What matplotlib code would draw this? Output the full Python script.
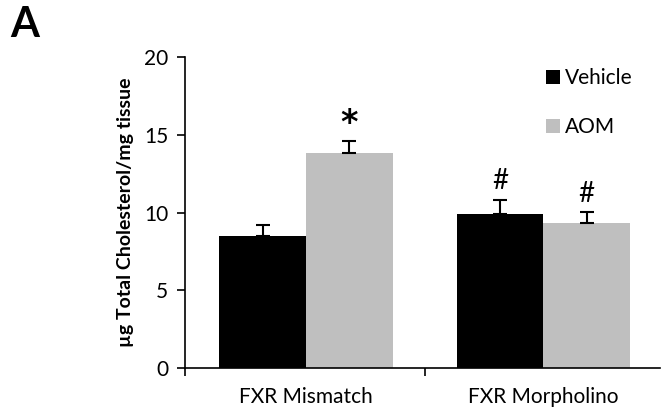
import numpy as np
import matplotlib
matplotlib.use('Agg')
import matplotlib.pyplot as plt
from matplotlib.ticker import FixedLocator

plt.rcParams['font.family'] = ['Lato', 'DejaVu Sans']

# data
groups = ['FXR Mismatch', 'FXR Morpholino']
vehicle = [8.5, 9.92]
vehicle_err = [0.68, 0.86]
aom = [13.8, 9.34]
aom_err = [0.8, 0.69]
marks_vehicle = ['', '#']
marks_aom = ['*', '#']

fig = plt.figure(figsize=(6.61, 4.17), dpi=100)
ax = fig.add_axes([0.28, 0.1175, 0.718, 0.7455])

x = np.arange(len(groups))
w = 0.365
ax.bar(x - w / 2, vehicle, w, color='black', label='Vehicle',
       yerr=[np.zeros(2), vehicle_err], capsize=5,
       error_kw=dict(ecolor='black', elinewidth=1.5, capthick=1.5))
ax.bar(x + w / 2, aom, w, color='#bfbfbf', label='AOM',
       yerr=[np.zeros(2), aom_err], capsize=5,
       error_kw=dict(ecolor='black', elinewidth=1.5, capthick=1.5))

for xi, v, e, m in zip(x - w / 2, vehicle, vehicle_err, marks_vehicle):
    if m:
        ax.text(xi, v + e + 0.4, m, ha='center', va='bottom', fontsize=20)
for xi, v, e, m in zip(x + w / 2, aom, aom_err, marks_aom):
    if m == '*':
        ax.text(xi, v + e + 1.1, m, ha='center', va='center',
                fontsize=24, fontweight='bold', family='DejaVu Sans')
    elif m:
        ax.text(xi, v + e + 0.3, m, ha='center', va='bottom', fontsize=20)

ax.set_ylim(0, 20)
ax.set_xlim(-0.51, 1.49)
ax.set_yticks([0, 5, 10, 15, 20])
ax.set_xticks(x)
ax.set_xticklabels(groups)
ax.xaxis.set_minor_locator(FixedLocator([-0.51, 0.5]))
ax.tick_params(axis='x', which='major', length=0, pad=14, labelsize=15)
ax.tick_params(axis='x', which='minor', length=6, width=1.2, direction='out')
ax.tick_params(axis='y', length=6, width=1.2, labelsize=15, pad=6)

for s in ['top', 'right']:
    ax.spines[s].set_visible(False)
ax.spines['left'].set_linewidth(1.2)
ax.spines['bottom'].set_linewidth(1.2)

ax.set_ylabel('µg Total Cholesterol/mg tissue', fontsize=14, fontweight='bold', labelpad=7)

ax.legend(loc='upper right', bbox_to_anchor=(0.983, 1.025), frameon=False, fontsize=15,
          handlelength=0.65, handleheight=0.65, handletextpad=0.25, labelspacing=1.4)

fig.text(0.016, 0.985, 'A', fontsize=30, fontweight='bold', ha='left', va='top')

fig.savefig('out.png', dpi=100)
